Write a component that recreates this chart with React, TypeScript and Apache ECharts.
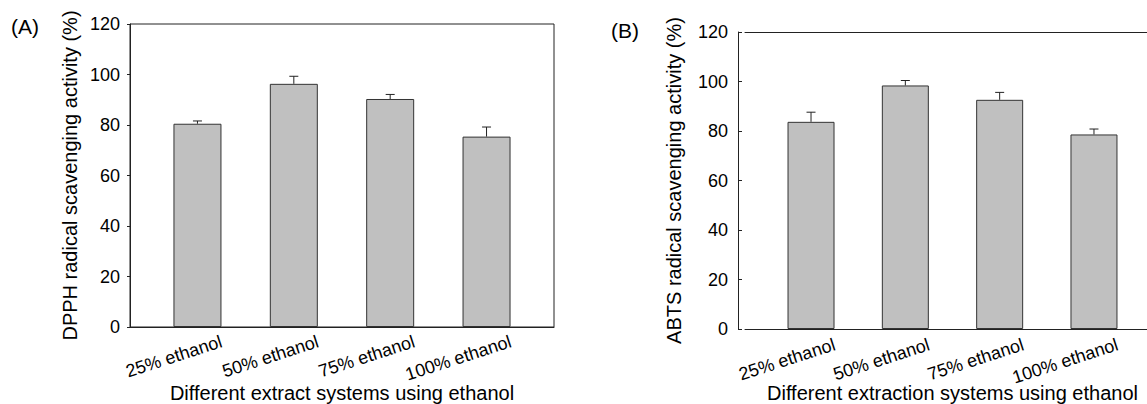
import React, { useEffect, useRef } from "react";
import * as echarts from "echarts";

const categories = ["25% ethanol", "50% ethanol", "75% ethanol", "100% ethanol"];
const dpphMean = [80.5, 96.3, 90.3, 75.4];
const dpphErr = [1.1, 3.0, 1.8, 3.8];
const abtsMean = [83.7, 98.4, 92.6, 78.6];
const abtsErr = [3.9, 2.0, 3.0, 2.2];
const yMin = 0;
const yMax = 120;
const yStep = 20;

const FONT = "'Liberation Sans', Arial, sans-serif";
const AXIS = "#222";
const labelShift = 0.25;

function App() {
  const ref = useRef<HTMLDivElement>(null);
  useEffect(() => {
    if (!ref.current) return;
    const chart = echarts.init(ref.current, null, { renderer: "svg" });
    const pos = categories.map((_, i) => i + 1);
    const labelPos = pos.map((p) => p + labelShift);
    const fmt = (v: number) => categories[Math.round(v - labelShift) - 1] ?? "";

    const xAxisBase = (gridIndex: number, name: string, nameGap: number, margin: number) => ({
      type: "value",
      gridIndex,
      min: 0.3,
      max: 4.7,
      position: "bottom",
      name,
      nameLocation: "middle",
      nameGap,
      nameMoveOverlap: false,
      nameTextStyle: { fontSize: 20, color: "#000", fontFamily: FONT },
      axisLine: { show: true, onZero: false, lineStyle: { color: AXIS, width: 1 } },
      axisTick: { show: false },
      splitLine: { show: false },
      axisLabel: {
        customValues: labelPos,
        formatter: fmt,
        rotate: 18,
        margin,
        fontSize: 18,
        color: "#000",
        fontFamily: FONT,
      },
    });

    const yAxisBase = (gridIndex: number, name: string, nameGap: number, inside: boolean, offset: number) => ({
      type: "value",
      gridIndex,
      min: yMin,
      max: yMax,
      interval: yStep,
      offset,
      name,
      nameLocation: "middle",
      nameGap,
      nameMoveOverlap: false,
      nameTextStyle: { fontSize: 20, color: "#000", fontFamily: FONT },
      axisLine: { show: true, lineStyle: { color: AXIS, width: 1 } },
      axisTick: { show: true, inside, length: inside ? 4 : 3, lineStyle: { color: AXIS } },
      splitLine: { show: false },
      axisLabel: { margin: 10, fontSize: 18, color: "#000", fontFamily: FONT },
    });

    const errRender = (params: any, api: any) => {
      const x = api.value(0);
      const v = api.value(1);
      const e = api.value(2);
      const p0 = api.coord([x, v]);
      const p1 = api.coord([x, v + e]);
      const style = { stroke: AXIS, lineWidth: 1 };
      return {
        type: "group",
        children: [
          { type: "line", shape: { x1: p0[0], y1: p0[1], x2: p1[0], y2: p1[1] }, style },
          { type: "line", shape: { x1: p1[0] - 4.5, y1: p1[1], x2: p1[0] + 4.5, y2: p1[1] }, style },
        ],
      };
    };

    const barSeries = (idx: number, mean: number[], width: number) => ({
      type: "bar",
      xAxisIndex: idx,
      yAxisIndex: idx,
      barWidth: width,
      data: mean.map((m, i) => [pos[i], m]),
      itemStyle: { color: "#c0c0c0", borderColor: "#333", borderWidth: 1 },
      z: 2,
    });

    const errSeries = (idx: number, mean: number[], err: number[]) => ({
      type: "custom",
      xAxisIndex: idx,
      yAxisIndex: idx,
      renderItem: errRender,
      data: mean.map((m, i) => [pos[i], m, err[i]]),
      encode: { x: 0, y: 1 },
      z: 1,
    });

    chart.setOption({
      animation: false,
      backgroundColor: "#fff",
      textStyle: { fontFamily: FONT },
      graphic: [
        { type: "text", x: 11, y: 26, style: { text: "(A)", font: `21px ${FONT}`, fill: "#000", textVerticalAlign: "middle" } },
        { type: "text", x: 611, y: 30, style: { text: "(B)", font: `21px ${FONT}`, fill: "#000", textVerticalAlign: "middle" } },
      ],
      grid: [
        { left: 130, top: 24, width: 424, height: 303, show: true, borderColor: AXIS, borderWidth: 1, backgroundColor: "transparent", containLabel: false, outerBoundsMode: "none" },
        { left: 745, top: 32, width: 415, height: 297, show: false, containLabel: false, outerBoundsMode: "none" },
      ],
      xAxis: [
        xAxisBase(0, "Different extract systems using ethanol", 56, 14),
        xAxisBase(1, "Different extraction systems using ethanol", 54, 15),
        {
          type: "value",
          gridIndex: 1,
          min: 0.3,
          max: 4.7,
          position: "top",
          axisLine: { show: true, onZero: false, lineStyle: { color: AXIS, width: 1 } },
          axisTick: { show: false },
          axisLabel: { show: false },
          splitLine: { show: false },
        },
      ],
      yAxis: [
        yAxisBase(0, "DPPH radical scavenging activity (%)", 50, false, 0),
        yAxisBase(1, "ABTS radical scavenging activity (%)", 54, true, 7),
      ],
      series: [
        barSeries(0, dpphMean, 48),
        errSeries(0, dpphMean, dpphErr),
        barSeries(1, abtsMean, 47),
        errSeries(1, abtsMean, abtsErr),
      ],
    });
    return () => chart.dispose();
  }, []);
  return <div ref={ref} style={{ position: "fixed", left: 0, top: 0, width: 1147, height: 404 }} />;
}

export default App;
